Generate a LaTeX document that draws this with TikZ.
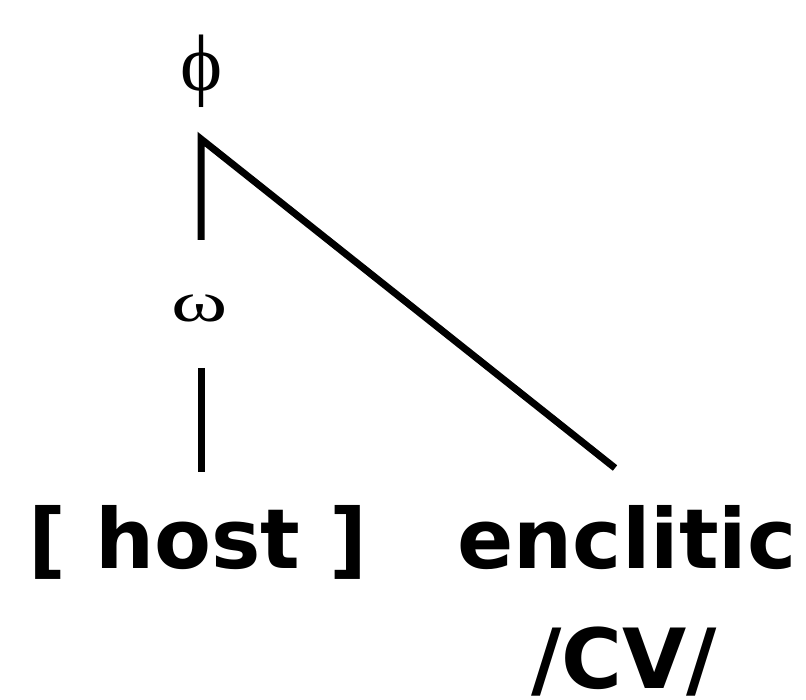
\documentclass[tikz,border=0pt]{standalone}
\usepackage{fontspec}
\newfontfamily\greekfont{Liberation Serif}
\newfontfamily\labelfont{DejaVu Sans}
\tikzset{
  greek/.style={inner sep=0pt, anchor=base, font=\greekfont\fontsize{80}{84}\selectfont},
  wide greek/.style={inner sep=0pt, anchor=base, transform shape, xscale=1.5, font=\greekfont\fontsize{57}{60}\selectfont},
  word/.style={inner sep=0pt, anchor=base, font=\labelfont\bfseries\fontsize{83}{88}\selectfont},
  branch/.style={line width=7pt, line join=miter}
}
\begin{document}
\begin{tikzpicture}[x=1pt,y=-1pt]
\useasboundingbox (0,0) rectangle (806,700);
\node[greek] (phi) at (202,91) {ϕ};
\node[wide greek] (omega) at (200,322) {ω};
\node[word] (host) at (198,568) {[ host ]};
\node[word] (enclitic) at (627,568) {enclitic};
\node[word] (cv) at (624,688) {/CV/};
\coordinate (apex) at (201,139);
\coordinate (omegatop) at (201,240);
\coordinate (omegabot) at (201,368);
\coordinate (hosttop) at (201,472);
\coordinate (enctop) at (615,468);
\draw[branch] (omegatop) -- (apex) -- (enctop);
\draw[branch] (omegabot) -- (hosttop);
\end{tikzpicture}
\end{document}
